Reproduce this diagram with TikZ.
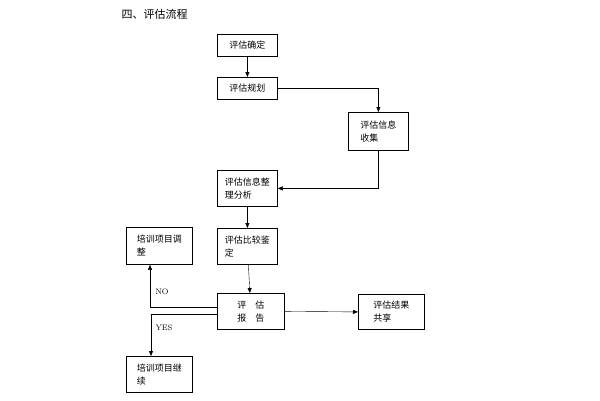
\documentclass[tikz,border=0pt]{standalone}
\usepackage{fontspec}
\newfontfamily\cjk{Noto Sans CJK SC}
\usetikzlibrary{arrows.meta}

\begin{document}
\begin{tikzpicture}[
  x=1pt, y=-1pt,
  box/.style={draw, line width=0.8pt, anchor=north west, inner sep=4pt,
              align=left, font=\cjk\fontsize{9}{13}\selectfont},
  lbl/.style={font=\fontsize{8}{10}\selectfont},
  >={Triangle[length=5pt,width=4pt]},
]
  \useasboundingbox (0,0) rectangle (600,400);
  \node[anchor=west, font=\cjk\fontsize{11}{13}\selectfont] (title) at (118,14) {四、评估流程};

  \node[box, minimum width=60pt, minimum height=22pt] (confirm) at (217,34) {评估确定};
  \node[box, minimum width=60pt, minimum height=22pt] (plan) at (217,77) {评估规划};
  \node[box, minimum width=60pt, minimum height=38pt] (collect) at (348,112) {评估信息\\收集};
  \node[box, minimum width=60pt, minimum height=36pt] (analyse) at (217,170) {评估信息整\\理分析};
  \node[box, minimum width=60pt, minimum height=36pt] (compare) at (217,228) {评估比较鉴\\定};
  \node[box, minimum width=67pt, minimum height=36pt, align=center] (report) at (217,293) {评\quad 估\\报\quad 告};
  \node[box, minimum width=66pt, minimum height=35pt] (share) at (358,294) {评估结果\\共享};
  \node[box, minimum width=66pt, minimum height=37pt] (adjust) at (126,227) {培训项目调\\整};
  \node[box, minimum width=66pt, minimum height=36pt] (cont) at (126,356) {培训项目继\\续};

  \coordinate (nocorner) at (150,307);
  \coordinate (yescorner) at (151,314);

  \draw[->] (confirm) -- (plan);
  \draw[->] (plan.east) -| (collect.north);
  \draw[->] (collect.south) |- (analyse.east);
  \draw[->] (analyse) -- (compare);
  \draw[->] (compare) -- (report);
  \draw[->] (report.east) -- (share.west);
  \draw[->] (report.west |- nocorner) -- (nocorner) -- (adjust.south -| nocorner);
  \draw[->] (report.west |- yescorner) -- (yescorner) -- (cont.north -| yescorner);

  \node[lbl, anchor=west] (no) at (152,292) {NO};
  \node[lbl, anchor=west] (yes) at (152,328) {YES};
\end{tikzpicture}
\end{document}
